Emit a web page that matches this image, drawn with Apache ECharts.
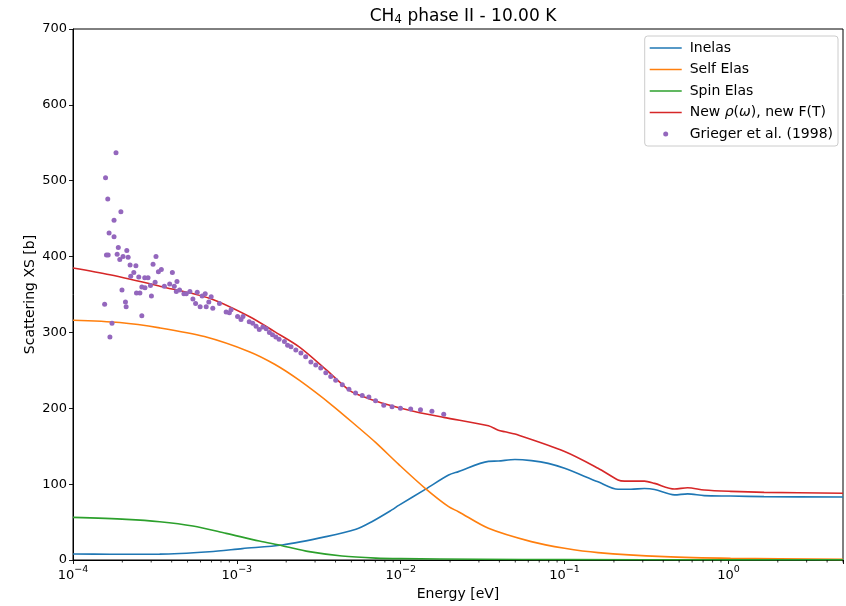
<!DOCTYPE html>
<html>
<head>
<meta charset="utf-8">
<script src="https://cdn.jsdelivr.net/npm/echarts@6/dist/echarts.min.js"></script>
<style>
  html, body { margin: 0; padding: 0; background: #fff; }
  #chart { width: 846px; height: 606px; }
</style>
</head>
<body>
<div id="chart"></div>
<script>
// Scattering cross section of CH4 (phase II) at 10 K versus neutron energy.
// Each curve is a list of [energy (eV), cross section (b)] pairs.

const inelas = [
  [1.0e-4, 8.0], [1.68e-4, 7.6], [3.38e-4, 7.7], [6.80e-4, 10.8], [1.08e-3, 15.0],
  [1.89e-3, 19.8], [3.50e-3, 30.8], [5.33e-3, 40.5], [6.66e-3, 50.5], [8.82e-3, 66.0],
  [9.72e-3, 72.0], [1.42e-2, 93.5], [1.96e-2, 112.0], [2.25e-2, 116.5], [3.43e-2, 130.0],
  [3.94e-2, 130.5], [4.98e-2, 132.5], [6.28e-2, 131.0], [7.94e-2, 127.4], [1.00e-1, 120.8],
  [1.60e-1, 103.0], [2.12e-1, 93.2], [2.54e-1, 93.2], [3.07e-1, 94.3], [3.54e-1, 93.0],
  [4.68e-1, 85.8], [5.63e-1, 87.2], [7.12e-1, 84.8], [1.03, 84.3], [1.65, 83.5], [5.0, 83.0]
];

const selfElas = [
  [1.0e-4, 316.0], [1.93e-4, 313.0], [3.38e-4, 306.0], [6.34e-4, 294.5], [1.19e-3, 274.6],
  [1.70e-3, 258.0], [2.40e-3, 237.0], [3.81e-3, 204.0], [5.56e-3, 174.0], [7.02e-3, 155.0],
  [9.72e-3, 126.0], [1.41e-2, 94.5], [1.96e-2, 70.3], [2.25e-2, 63.7], [3.43e-2, 41.8],
  [6.26e-2, 24.2], [1.00e-1, 15.4], [1.60e-1, 9.7], [4.07e-1, 4.4], [1.03, 2.2], [5.0, 0.8]
];

const spinElas = [
  [1.0e-4, 56.2], [2.12e-4, 53.6], [3.38e-4, 50.5], [5.39e-4, 44.8], [8.60e-4, 35.1],
  [1.37e-3, 25.0], [1.89e-3, 18.9], [2.76e-3, 11.0], [4.38e-3, 5.3], [7.05e-3, 2.5],
  [1.0e-2, 1.8], [3.0e-2, 1.0], [1.0e-1, 0.5], [1.0, 0.2], [5.0, 0.1]
];

const newRhoNewF = [
  [1.0e-4, 385.0], [1.68e-4, 376.0], [3.38e-4, 361.0], [6.80e-4, 345.0], [1.19e-3, 321.0],
  [1.70e-3, 301.0], [2.40e-3, 281.0], [3.50e-3, 251.0], [4.83e-3, 224.0], [5.56e-3, 217.5],
  [7.66e-3, 207.0], [1.23e-2, 195.5], [1.83e-2, 188.0], [3.43e-2, 177.0], [3.94e-2, 171.0],
  [4.33e-2, 169.0], [4.98e-2, 166.0], [1.00e-1, 143.0], [1.60e-1, 121.0], [2.12e-1, 105.5],
  [2.32e-1, 104.0], [3.07e-1, 104.0], [3.54e-1, 101.0], [4.68e-1, 93.6], [5.63e-1, 95.3],
  [7.12e-1, 92.3], [1.03, 90.5], [1.65, 89.2], [5.0, 88.0]
];

// Measured total cross section, Grieger et al. (1998)
const grieger = [
  [1.83e-4, 537], [1.58e-4, 504], [1.63e-4, 476], [1.96e-4, 459], [1.78e-4, 448],
  [1.66e-4, 431], [1.78e-4, 426], [1.89e-4, 412], [2.13e-4, 408], [1.60e-4, 402],
  [1.64e-4, 402], [1.86e-4, 403], [2.02e-4, 400], [1.93e-4, 396], [2.17e-4, 399],
  [3.21e-4, 400], [2.23e-4, 389], [2.42e-4, 388], [3.08e-4, 390], [3.46e-4, 383],
  [3.32e-4, 380], [2.35e-4, 379], [4.04e-4, 379], [2.25e-4, 374], [2.52e-4, 373],
  [2.74e-4, 372], [2.87e-4, 372], [3.17e-4, 366], [4.31e-4, 367], [3.61e-4, 361],
  [3.89e-4, 364], [2.63e-4, 360], [2.75e-4, 359], [2.97e-4, 362], [4.15e-4, 361],
  [3.01e-4, 348], [1.99e-4, 356], [2.44e-4, 352], [2.56e-4, 352], [4.27e-4, 354],
  [4.47e-4, 356], [4.75e-4, 351], [4.91e-4, 351], [5.17e-4, 354], [5.73e-4, 353],
  [6.14e-4, 348], [6.41e-4, 351], [5.39e-4, 344], [5.60e-4, 338], [5.97e-4, 334],
  [6.50e-4, 334], [6.74e-4, 340], [2.09e-4, 340], [2.11e-4, 334], [1.56e-4, 337],
  [2.63e-4, 322], [1.73e-4, 312], [1.68e-4, 294],
  [6.97e-4, 347], [7.13e-4, 332], [7.83e-4, 338], [8.60e-4, 327], [9.00e-4, 326],
  [9.22e-4, 330], [1.01e-3, 321], [1.06e-3, 317], [1.09e-3, 321], [1.19e-3, 314],
  [1.25e-3, 312], [1.31e-3, 308], [1.37e-3, 304], [1.44e-3, 307], [1.51e-3, 305],
  [1.58e-3, 300], [1.65e-3, 297], [1.73e-3, 294], [1.81e-3, 291], [1.95e-3, 288],
  [2.04e-3, 283], [2.14e-3, 281], [2.29e-3, 277], [2.46e-3, 273], [2.63e-3, 268],
  [2.83e-3, 261], [3.03e-3, 257], [3.25e-3, 253], [3.49e-3, 247], [3.74e-3, 242],
  [4.01e-3, 237], [4.40e-3, 231], [4.83e-3, 225], [5.30e-3, 220], [5.82e-3, 217],
  [6.39e-3, 215], [7.02e-3, 210], [7.88e-3, 204], [8.85e-3, 202], [9.96e-3, 200],
  [1.15e-2, 199], [1.32e-2, 198], [1.55e-2, 196], [1.83e-2, 192]
];

// Log-axis minor tick positions (2..9 of each decade inside the range)
const minorTicks = [
  2e-4, 3e-4, 4e-4, 5e-4, 6e-4, 7e-4, 8e-4, 9e-4,
  2e-3, 3e-3, 4e-3, 5e-3, 6e-3, 7e-3, 8e-3, 9e-3,
  2e-2, 3e-2, 4e-2, 5e-2, 6e-2, 7e-2, 8e-2, 9e-2,
  2e-1, 3e-1, 4e-1, 5e-1, 6e-1, 7e-1, 8e-1, 9e-1,
  2, 3, 4, 5
];

const yTicks = [0, 100, 200, 300, 400, 500, 600, 700];

const FONT = 'DejaVu Sans';
const chart = echarts.init(document.getElementById('chart'), null, { renderer: 'canvas' });

const supText = { '-4': '−4', '-3': '−3', '-2': '−2', '-1': '−1', '0': '0' };
const LINE_ICON = 'path://M0,0H32V1.6H0Z';
const RED_NAME = 'New ρ(ω), new F(T)';

const lineSeries = (name, data, color) => ({
  name, type: 'line', data,
  symbol: 'none', showSymbol: false, smooth: 0.3,
  lineStyle: { color, width: 1.6 }, itemStyle: { color },
  z: 3
});

chart.setOption({
  animation: false,
  backgroundColor: '#ffffff',
  textStyle: { fontFamily: FONT, color: '#000' },
  title: {
    text: 'CH{sub|4} phase II - 10.00 K',
    left: 458, top: 2, textAlign: 'center',
    textStyle: {
      fontFamily: FONT, fontSize: 17, fontWeight: 'normal', color: '#000',
      rich: { sub: { fontFamily: FONT, fontSize: 12, verticalAlign: 'bottom', padding: [7, 0, 0, 0] } }
    }
  },
  grid: {
    left: 73, right: 3, top: 29, bottom: 46,
    show: true, borderColor: '#000', borderWidth: 1, backgroundColor: 'transparent'
  },
  legend: {
    orient: 'vertical', right: 8, top: 36,
    data: [
      { name: 'Inelas', icon: LINE_ICON },
      { name: 'Self Elas', icon: LINE_ICON },
      { name: 'Spin Elas', icon: LINE_ICON },
      { name: RED_NAME, icon: LINE_ICON },
      { name: 'Grieger et al. (1998)', icon: 'circle' }
    ],
    itemWidth: 32, itemHeight: 5, itemGap: 5.5,
    padding: [4, 5, 4, 5],
    borderColor: '#cccccc', borderWidth: 1, borderRadius: 3,
    backgroundColor: 'rgba(255,255,255,0.8)',
    textStyle: {
      fontFamily: FONT, fontSize: 14, color: '#000', lineHeight: 16, padding: [0, 0, 0, 3],
      rich: { i: { fontFamily: FONT, fontSize: 14, fontStyle: 'italic', lineHeight: 16 } }
    },
    formatter: (n) => n === RED_NAME ? 'New {i|ρ}({i|ω}), new F(T)' : n
  },
  xAxis: {
    type: 'log', logBase: 10, min: 1e-4, max: 5,
    name: 'Energy [eV]', nameLocation: 'middle', nameGap: 27, nameMoveOverlap: false,
    nameTextStyle: { fontFamily: FONT, fontSize: 14, color: '#000' },
    axisLine: { show: true, lineStyle: { color: '#000', width: 1 } },
    axisTick: { show: true, length: 4, lineStyle: { color: '#000', width: 0.9 } },
    axisLabel: {
      color: '#000', fontFamily: FONT, fontSize: 13, margin: 4,
      formatter: (v) => {
        const e = Math.round(Math.log10(v));
        if (Math.abs(Math.log10(v) - e) > 1e-6) return '';
        return '{b|10}{s|' + supText[String(e)] + '}';
      },
      rich: {
        b: { fontFamily: FONT, fontSize: 13, verticalAlign: 'bottom', lineHeight: 18 },
        s: { fontFamily: FONT, fontSize: 9.5, verticalAlign: 'bottom', lineHeight: 18, padding: [0, 0, 7, 0] }
      }
    },
    splitLine: { show: false }, minorTick: { show: false }
  },
  yAxis: {
    type: 'value', min: 0, max: 700, interval: 100,
    name: 'Scattering XS [b]', nameLocation: 'middle', nameGap: 36, nameMoveOverlap: false,
    nameTextStyle: { fontFamily: FONT, fontSize: 14, color: '#000' },
    axisLine: { show: true, lineStyle: { color: '#000', width: 1 } },
    axisTick: { show: true, length: 4, lineStyle: { color: '#000', width: 0.9 } },
    axisLabel: {
      color: '#000', fontFamily: FONT, fontSize: 13, margin: 6,
      formatter: (v) => yTicks.includes(v) ? String(v) : ''
    },
    splitLine: { show: false }
  },
  series: [
    lineSeries('Inelas', inelas, '#1f77b4'),
    lineSeries('Self Elas', selfElas, '#ff7f0e'),
    lineSeries('Spin Elas', spinElas, '#2ca02c'),
    lineSeries(RED_NAME, newRhoNewF, '#d62728'),
    {
      name: 'Grieger et al. (1998)', type: 'scatter', data: grieger,
      symbol: 'circle', symbolSize: 5,
      itemStyle: { color: '#9467bd', opacity: 1 }, z: 4
    },
    {
      name: 'minor-ticks', type: 'custom', silent: true, clip: false, z: 5,
      data: minorTicks.map(v => [v, 0]),
      encode: { x: 0, y: 1 },
      renderItem: (params, api) => {
        const p = api.coord([api.value(0), 0]);
        return {
          type: 'line',
          shape: { x1: p[0], y1: p[1], x2: p[0], y2: p[1] + 2.5 },
          style: { stroke: '#000', lineWidth: 0.8 }
        };
      }
    }
  ]
});
</script>
</body>
</html>
